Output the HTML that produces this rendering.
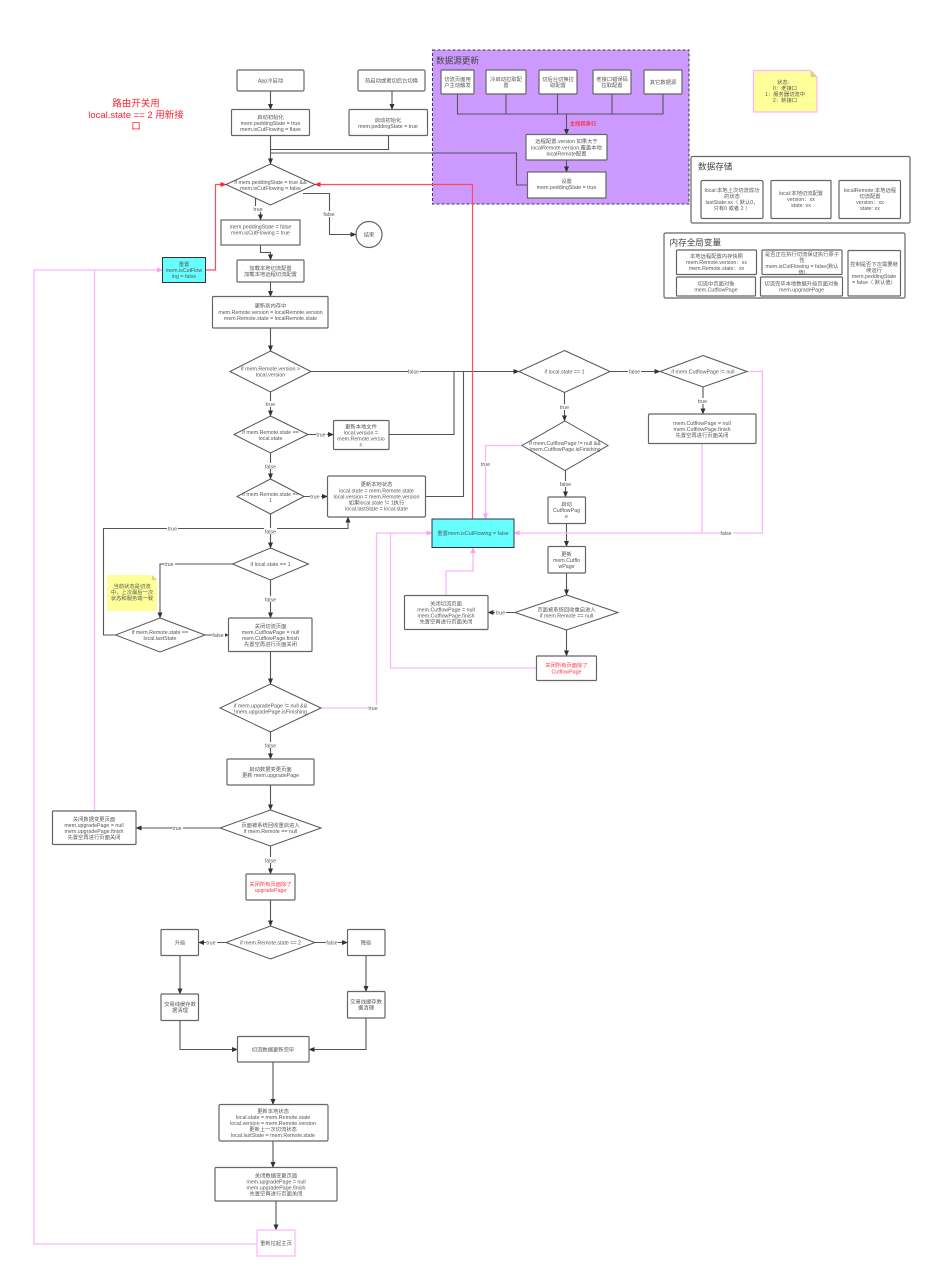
<!DOCTYPE html>
<html><head><meta charset="utf-8">
<style>
html,body{margin:0;padding:0;background:#fff}
svg{display:block}
text{font-family:"Liberation Sans","Noto Sans CJK SC",sans-serif;font-size:5.3px;fill:#555;text-anchor:middle}
.b{fill:#fff;stroke:#666;stroke-width:1.2}
.d{fill:#fff;stroke:#555;stroke-width:1}
.l{fill:none;stroke:#555;stroke-width:1.1}
.lm{fill:none;stroke:#555;stroke-width:1.1;marker-end:url(#ak)}
.p{fill:none;stroke:#fdb4fd;stroke-width:1.3}
.pm{fill:none;stroke:#fdb4fd;stroke-width:1.3;marker-end:url(#ap)}
.r{fill:none;stroke:#ff4a5a;stroke-width:1.2;marker-end:url(#ar)}
.lb{fill:#fff}
.t{font-size:8.6px;text-anchor:start;fill:#444}
.red{fill:#ff3344}
</style></head><body>
<svg width="933" height="1280" viewBox="0 0 933 1280" xmlns="http://www.w3.org/2000/svg">
<defs>
<marker id="ak" markerUnits="userSpaceOnUse" markerWidth="6" markerHeight="5" refX="5.5" refY="2.5" orient="auto"><path d="M0,0L6,2.5L0,5z" fill="#333"/></marker>
<marker id="ap" markerUnits="userSpaceOnUse" markerWidth="6" markerHeight="5" refX="5.5" refY="2.5" orient="auto"><path d="M0,0L6,2.5L0,5z" fill="#fb9cfb"/></marker>
<marker id="ar" markerUnits="userSpaceOnUse" markerWidth="6" markerHeight="5" refX="5.5" refY="2.5" orient="auto"><path d="M0,0L6,2.5L0,5z" fill="#ff2233"/></marker>
</defs>
<rect x="0" y="0" width="933" height="1280" fill="#fff"/>

<!-- purple group -->
<rect x="432.500" y="50" width="256.500" height="154" fill="#cc99ff" stroke="#3a3a4a" stroke-width="1" stroke-dasharray="3 2"/>
<text class="t" x="436" y="63.500">数据源更新</text>

<!-- lines -->
<path class="lm" d="M270.500 91V109.500"/>
<path class="lm" d="M392 91V109.500"/>
<path class="l" d="M388.500 135.500V149.500H270.500"/>
<path class="lm" d="M270.500 135.500V164"/>
<path class="l" d="M270.500 153H516.500V185H527"/>
<path class="lm" d="M255.500 197V209.500H260.500V220"/>
<path class="lm" d="M303 193.500H329.500V234.500H356"/>
<path class="lm" d="M260.500 245V252.500H270.500V260"/>
<path class="lm" d="M270.500 282V296.500"/>
<path class="lm" d="M270.500 328V351"/>
<path class="lm" d="M270.500 392V416"/>
<path class="lm" d="M270.500 453V479"/>
<path class="lm" d="M270.500 514V548"/>
<path class="lm" d="M270.500 580V618"/>
<path class="lm" d="M270.500 651.500V684"/>
<path class="lm" d="M270.500 732V759"/>
<path class="lm" d="M270.500 785V810"/>
<path class="lm" d="M270.500 846V874"/>
<path class="lm" d="M270.500 900V926"/>
<path class="lm" d="M311 371.500H519"/>
<path class="lm" d="M308 434.500H333.500"/>
<path class="l" d="M389 434.500H454V371.500"/>
<path class="lm" d="M304 496.500H327.500"/>
<path class="l" d="M425.500 496.500H463.500V371.500"/>
<path class="lm" d="M115.500 635H103.500V528.500H348V517"/>
<path class="lm" d="M232.500 564H160V618"/>
<path class="lm" d="M205 635H228.500"/>
<path class="lm" d="M220 828H136"/>
<path class="lm" d="M226 942.500H198.500"/>
<path class="lm" d="M315 942.500H347.500"/>
<path class="lm" d="M180 955.500V994"/>
<path class="lm" d="M366 955.500V991.500"/>
<path class="lm" d="M180 1020.500V1049.500H237.500"/>
<path class="lm" d="M366 1018V1049.500H309"/>
<path class="lm" d="M273 1062V1104.500"/>
<path class="lm" d="M273 1141V1167.500"/>
<path class="lm" d="M276 1201V1230"/>
<path class="lm" d="M610 371.500H660"/>
<path class="lm" d="M564.500 392.500V421"/>
<path class="lm" d="M565.500 470.500V497"/>
<path class="lm" d="M566.500 523.500V546.500"/>
<path class="lm" d="M566.500 573V595"/>
<path class="lm" d="M566.500 630V656"/>
<path class="lm" d="M515 612.500H488"/>
<path class="lm" d="M703 387V414"/>
<path class="l" d="M457.500 94V114H663V94M506 94V114M557.500 94V114M612 94V114"/>
<path class="lm" d="M566.500 114V134.500"/>
<path class="lm" d="M566.500 160V172"/>

<!-- pink lines -->
<path class="pm" d="M257 1244H34V270H162.500"/>
<path class="p" d="M94.500 811V270"/>
<path class="pm" d="M321 708H376.500V533H432"/>
<path class="p" d="M536.500 668H390.500V533"/>
<path class="pm" d="M747 371.500H762.500V533H514"/>
<path class="p" d="M702 443.500V533"/>
<path class="pm" d="M522 445.500H485.500V519"/>
<path class="pm" d="M446 595.500V571H473V547.500"/>

<!-- red lines -->
<path class="r" d="M472.500 519V184.500H315"/>
<path class="r" d="M205.500 270H215.500V184.500H226"/>

<!-- boxes -->
<rect class="b" x="237" y="70" width="67" height="21" rx="1.500"/>
<text x="270.500" y="82.500">App冷启动</text>
<rect class="b" x="358" y="70" width="67" height="21" rx="1.500"/>
<text x="391.500" y="82.500">热启动或者切后台切换</text>
<rect class="b" x="231.500" y="109.500" width="78" height="26" rx="1"/>
<text x="270.500" y="119">启动初始化</text><text x="270.500" y="125">mem.peddingState = true</text><text x="270.500" y="131">mem.isCutFlowing = flase</text>
<rect class="b" x="349" y="109.500" width="78.500" height="26" rx="1"/>
<text x="388" y="122">启动初始化</text><text x="388" y="128">mem.peddingState = true</text>

<polygon class="d" points="270.500,164 315,184.500 270.500,205 226,184.500"/>
<text x="270.500" y="184">if mem.peddingState = true &amp;&amp;</text><text x="270.500" y="190">mem.isCutFlowing = false</text>

<rect class="b" x="221" y="220" width="79" height="25"/>
<text x="260.500" y="228.500">mem.peddingState = false</text><text x="260.500" y="234.500">mem.isCutFlowing = true</text>
<circle class="b" cx="369" cy="234.500" r="13"/>
<text x="369" y="236.500">结束</text>
<rect class="b" x="237" y="260" width="67" height="22" rx="1"/>
<text x="270.500" y="270">加载本地切流配置</text><text x="270.500" y="276">加载本地远程切流配置</text>
<rect class="b" x="212.500" y="296.500" width="115.500" height="31.500" rx="1"/>
<text x="270.500" y="307.500">更新到内存中</text><text x="270.500" y="314">mem.Remote.version = localRemote.version</text><text x="270.500" y="320">mem.Remote.state = localRemote.state</text>
<rect x="162.500" y="257.500" width="43" height="25" fill="#66ffff" stroke="#333" stroke-width="1"/>
<text x="184" y="266">重置</text><text x="184" y="272">mem.isCutFlow</text><text x="184" y="278">ing = false</text>

<polygon class="d" points="270.500,351 311,371.500 270.500,392 230,371.500"/>
<text x="270.500" y="370.500">if mem.Remote.version &gt;</text><text x="270.500" y="376.500">local.version</text>
<polygon class="d" points="270.500,416 308,434.500 270.500,453 234,434.500"/>
<text x="270.500" y="434">if mem.Remote.state ==</text><text x="270.500" y="440">local.state</text>
<rect class="b" x="333.500" y="420.500" width="55.500" height="29" rx="1"/>
<text x="361" y="428.500">更新本地文件</text><text x="361" y="434.500">local.version =</text><text x="361" y="440.500">mem.Remote.versio</text><text x="361" y="446.500">n</text>
<polygon class="d" points="270.500,479 304,496.500 270.500,514 237,496.500"/>
<text x="270.500" y="496">if mem.Remote.state ==</text><text x="270.500" y="502">1</text>
<rect class="b" x="327.500" y="476" width="98" height="41" rx="1.500"/>
<text x="376.500" y="486">更新本地状态</text><text x="376.500" y="492.500">local.state = mem.Remote.state</text><text x="376.500" y="498.500">local.version = mem.Remote.version</text><text x="376.500" y="504.500">如果local.state != 1执行</text><text x="376.500" y="510.500">local.lastState = local.state</text>
<polygon class="d" points="270.500,548 308.500,564 270.500,580 232.500,564"/>
<text x="270.500" y="566">if  local.state == 1</text>

<!-- note 2 -->
<path d="M107 575H152L157 580V611H107z" fill="#ffff99" />
<path d="M152 575L157 580H152z" fill="#d8d870"/>
<text x="132" y="588">当前状态是切流</text><text x="132" y="594">中，上次最后一次</text><text x="132" y="600">状态和服务端一致</text>

<polygon class="d" points="160,618 205,635 160,652 115.500,635"/>
<text x="160" y="634">if mem.Remote.state ==</text><text x="160" y="640">local.lastState</text>
<rect class="b" x="228.500" y="618" width="83.500" height="33.500" rx="1"/>
<text x="270.500" y="628">关闭切流页面</text><text x="270.500" y="634">mem.CutflowPage = null</text><text x="270.500" y="640">mem.CutflowPage.finish</text><text x="270.500" y="646">先置空再进行页面关闭</text>
<polygon class="d" points="270.500,684 321,708 270.500,732 220,708"/>
<text x="270.500" y="707.500">if mem.upgradePage != null &amp;&amp;</text><text x="270.500" y="713.500">!mem.upgradePage.isFinishing</text>
<rect class="b" x="227" y="759" width="87" height="26" rx="1"/>
<text x="270.500" y="771">启动数据变更页面</text><text x="270.500" y="777">更新 mem.upgradePage</text>
<polygon class="d" points="270.500,810 321,828 270.500,846 220,828"/>
<text x="270.500" y="827">页面被系统回收重启进入</text><text x="270.500" y="833">if mem.Remote == null</text>
<rect class="b" x="52.500" y="811" width="83.500" height="33.500" rx="1"/>
<text x="94" y="821">关闭数据变更页面</text><text x="94" y="827">mem.upgradePage = null</text><text x="94" y="833">mem.upgradePage.finish</text><text x="94" y="839">先置空再进行页面关闭</text>
<rect class="b" x="246" y="874" width="49" height="26" rx="1"/>
<text class="red" x="270.500" y="886">关闭所有页面除了</text><text class="red" x="270.500" y="892">upgradePage</text>
<polygon class="d" points="270.500,926 315,942.500 270.500,959 226,942.500"/>
<text x="270.500" y="944.500">if mem.Remote.state == 2</text>
<rect class="b" x="161" y="929.500" width="37.500" height="26" rx="1"/>
<text x="180" y="944.500">升级</text>
<rect class="b" x="347.500" y="929.500" width="37.500" height="26" rx="1"/>
<text x="366" y="944.500">降级</text>
<rect class="b" x="161" y="994" width="37.500" height="26.500" rx="1"/>
<text x="180" y="1006">交易线缓存数</text><text x="180" y="1012">据清理</text>
<rect class="b" x="347.500" y="991.500" width="37.500" height="26.500" rx="1"/>
<text x="366" y="1003.500">交易线缓存数</text><text x="366" y="1009.500">据清理</text>
<rect class="b" x="237.500" y="1036.500" width="71.500" height="25.500" rx="1"/>
<text x="273" y="1051.500">切流数据更新完毕</text>
<rect class="b" x="219" y="1104.500" width="109" height="36.500" rx="1.500"/>
<text x="273" y="1113">更新本地状态</text><text x="273" y="1119">local.state = mem.Remote.state</text><text x="273" y="1125">local.version = mem.Remote.version</text><text x="273" y="1131">更新上一次切流状态</text><text x="273" y="1137">local.lastState = mem.Remote.state</text>
<rect class="b" x="215" y="1167.500" width="122" height="33.500" rx="1"/>
<text x="276" y="1177.500">关闭数据变更页面</text><text x="276" y="1183.500">mem.upgradePage = null</text><text x="276" y="1189.500">mem.upgradePage.finish</text><text x="276" y="1195.500">先置空再进行页面关闭</text>
<rect x="257" y="1230" width="38" height="26" fill="#fff" stroke="#fdb4fd" stroke-width="1.200"/>
<text x="276" y="1245">重新拉起主页</text>

<!-- right flow -->
<polygon class="d" points="564.500,350.500 610,371.500 564.500,392.500 519,371.500"/>
<text x="564.500" y="373.500">if local.state == 1</text>
<polygon class="d" points="703,355.500 747,371.500 703,387 660,371.500"/>
<text x="703" y="373.500">if mem.CutflowPage != null</text>
<rect class="b" x="648.500" y="414" width="107.500" height="29.500" rx="1"/>
<text x="702" y="425">mem.CutflowPage = null</text><text x="702" y="431">mem.CutflowPage.finish</text><text x="702" y="437">先置空再进行页面关闭</text>
<polygon class="d" points="565,421 608,445.500 565,470.500 522,445.500"/>
<text x="565" y="445">if mem.CutflowPage != null &amp;&amp;</text><text x="565" y="451">!mem.CutflowPage.isFinishing</text>
<rect class="b" x="548" y="497" width="37.500" height="26.500" rx="1"/>
<text x="566.500" y="506">启动</text><text x="566.500" y="512">CutflowPag</text><text x="566.500" y="518">e</text>
<rect class="b" x="548" y="546.500" width="37.500" height="26.500" rx="1"/>
<text x="566.500" y="556">更新</text><text x="566.500" y="562">mem.Cutflo</text><text x="566.500" y="568">wPage</text>
<rect x="432" y="519" width="82" height="28.500" fill="#66ffff" stroke="#334" stroke-width="1"/>
<text x="473" y="535">重置mem.isCutFlowing = false</text>
<polygon class="d" points="566.500,595 618,612.500 566.500,630 515,612.500"/>
<text x="566.500" y="611.500">页面被系统回收重启进入</text><text x="566.500" y="617.500">if mem.Remote == null</text>
<rect class="b" x="404.500" y="595.500" width="83.500" height="34" rx="1"/>
<text x="446" y="605.500">关闭切流页面</text><text x="446" y="611.500">mem.CutflowPage = null</text><text x="446" y="617.500">mem.CutflowPage.finish</text><text x="446" y="623.500">先置空再进行页面关闭</text>
<rect class="b" x="536.500" y="656" width="60" height="24.500" rx="1"/>
<text class="red" x="566.500" y="667">关闭所有页面除了</text><text class="red" x="566.500" y="673.500">CutflowPage</text>

<!-- purple inner -->
<rect class="b" x="441" y="70" width="33" height="24" rx="1"/>
<text x="457.500" y="81">切流页面用</text><text x="457.500" y="87">户主动触发</text>
<rect class="b" x="486" y="70" width="40" height="24" rx="1"/>
<text x="506" y="81">冷启动拉取配</text><text x="506" y="87">置</text>
<rect class="b" x="539" y="70" width="38" height="24" rx="1"/>
<text x="558" y="81">切后台切换拉</text><text x="558" y="87">取配置</text>
<rect class="b" x="593" y="70" width="38" height="24" rx="1"/>
<text x="612" y="81">老接口错误码</text><text x="612" y="87">拉取配置</text>
<rect class="b" x="644" y="70" width="38" height="24" rx="1"/>
<text x="663" y="84">其它数据源</text>
<text class="red" x="583" y="125.500" style="font-weight:bold">主线程串行</text>
<rect class="b" x="526" y="134.500" width="81" height="25.500" rx="1"/>
<text x="566.500" y="143">远程配置.version 如果大于</text><text x="566.500" y="149.500">localRemote.version,覆盖本地</text><text x="566.500" y="155.500">localRemote配置</text>
<rect class="b" x="527.500" y="172" width="78.500" height="26"/>
<text x="566.500" y="183">设置</text><text x="566.500" y="189">mem.peddingState = true</text>

<!-- yellow note -->
<path d="M753.500 70.500H810.500L817 77V112H753.500z" fill="#ffff99" stroke="#fdb4fd" stroke-width="1.200"/>
<path d="M810.500 70.500L817 77H810.500z" fill="#e0d080"/>
<text x="785" y="84">状态：</text><text x="785" y="90">0：老接口</text><text x="785" y="96">1：服务器切流中</text><text x="785" y="102">2：新接口</text>

<!-- storage -->
<rect class="b" x="691" y="156.500" width="219" height="66.500" rx="1.500"/>
<text class="t" x="698" y="169.500">数据存储</text>
<rect class="b" x="701" y="180.500" width="62" height="38" rx="1.500"/>
<text x="732" y="192">local:本地上次切流成功</text><text x="732" y="198">的状态</text><text x="732" y="204">lastState:xx（ 默认0，</text><text x="732" y="210">只有0 或者 2 ）</text>
<rect class="b" x="771" y="180.500" width="60" height="38" rx="1"/>
<text x="801" y="195">local:本地切流配置</text><text x="801" y="201">version：xx</text><text x="801" y="207">state: xx</text>
<rect class="b" x="839" y="180.500" width="61.500" height="38" rx="1"/>
<text x="870" y="192">localRemote:本地远程</text><text x="870" y="198">切流配置</text><text x="870" y="204">version：xx</text><text x="870" y="210">state: xx</text>

<!-- memory -->
<rect class="b" x="664" y="233" width="241" height="65" rx="1.500"/>
<text class="t" x="669.500" y="245.500">内存全局变量</text>
<rect class="b" x="676.500" y="250" width="80" height="24.500" rx="1"/>
<text x="716.500" y="258">本地远程配置内存快照</text><text x="716.500" y="264">mem.Remote.version：xx</text><text x="716.500" y="270">mem.Remote.state：xx</text>
<rect class="b" x="762" y="250" width="80" height="24.500" rx="1"/>
<text x="802" y="256">是否正在执行切流保证执行原子</text><text x="802" y="262">性</text><text x="802" y="268">mem.isCutFlowing = false(默认</text><text x="802" y="274">值)</text>
<rect class="b" x="676.500" y="277" width="79" height="19" rx="1"/>
<text x="716" y="285.500">切流中页面对象</text><text x="716" y="291.500">mem.CutflowPage</text>
<rect class="b" x="760.500" y="277" width="82" height="19" rx="1"/>
<text x="801.500" y="285.500">切流完毕本地数据升级页面对象</text><text x="801.500" y="291.500">mem.upgradePage</text>
<rect class="b" x="848" y="250.500" width="52.500" height="45.500" rx="1"/>
<text x="874" y="266">控制是否下次需要继</text><text x="874" y="272">续运行</text><text x="874" y="278">mem.peddingState</text><text x="874" y="284">= false（  默认值）</text>

<!-- big red text -->
<text x="136" y="106.500" style="font-size:9.500px;fill:#ff2233">路由开关用</text>
<text x="136" y="118" style="font-size:9.500px;fill:#ff2233">local.state == 2 用新接</text>
<text x="136" y="129.500" style="font-size:9.500px;fill:#ff2233">口</text>

<!-- edge labels -->
<g>
<rect class="lb" x="253" y="206" width="11" height="6"/><text x="258" y="211">true</text>
<rect class="lb" x="323" y="211" width="12" height="6"/><text x="329" y="216">false</text>
<rect class="lb" x="265" y="401" width="11" height="6"/><text x="270.500" y="406">true</text>
<rect class="lb" x="264" y="463" width="13" height="6"/><text x="270.500" y="468.500">false</text>
<rect class="lb" x="264" y="528" width="13" height="6"/><text x="270.500" y="533.500">false</text>
<rect class="lb" x="264" y="596" width="13" height="6"/><text x="270.500" y="601.500">false</text>
<rect class="lb" x="264" y="742" width="13" height="6"/><text x="270.500" y="747.500">false</text>
<rect class="lb" x="264" y="857" width="13" height="6"/><text x="270.500" y="862.500">false</text>
<rect class="lb" x="408" y="368.500" width="12" height="6"/><text x="413.500" y="373.500">false</text>
<rect class="lb" x="316" y="431.500" width="11" height="6"/><text x="321" y="436.500">true</text>
<rect class="lb" x="310" y="493.500" width="11" height="6"/><text x="315" y="498.500">true</text>
<rect class="lb" x="167" y="525.500" width="11" height="6"/><text x="172.500" y="530.500">true</text>
<rect class="lb" x="164" y="561" width="11" height="6"/><text x="169" y="566">true</text>
<rect class="lb" x="212" y="632" width="13" height="6"/><text x="218" y="637">false</text>
<rect class="lb" x="368" y="705" width="11" height="6"/><text x="373" y="710">true</text>
<rect class="lb" x="172" y="825" width="11" height="6"/><text x="177" y="830">true</text>
<rect class="lb" x="206" y="939.500" width="11" height="6"/><text x="211" y="944.500">true</text>
<rect class="lb" x="326" y="939.500" width="12" height="6"/><text x="332" y="944.500">false</text>
<rect class="lb" x="559" y="404" width="11" height="6"/><text x="564.500" y="409">true</text>
<rect class="lb" x="559" y="481" width="13" height="6"/><text x="565.500" y="486">false</text>
<rect class="lb" x="480" y="461" width="11" height="6"/><text x="485.500" y="466">true</text>
<rect class="lb" x="628" y="368.500" width="13" height="6"/><text x="634.500" y="373.500">false</text>
<rect class="lb" x="698" y="398" width="11" height="6"/><text x="702.500" y="403">true</text>
<rect class="lb" x="720" y="530" width="13" height="6"/><text x="726" y="535">false</text>
<rect class="lb" x="495" y="609.500" width="11" height="6"/><text x="500.500" y="614.500">true</text>
</g>
</svg>
</body></html>
